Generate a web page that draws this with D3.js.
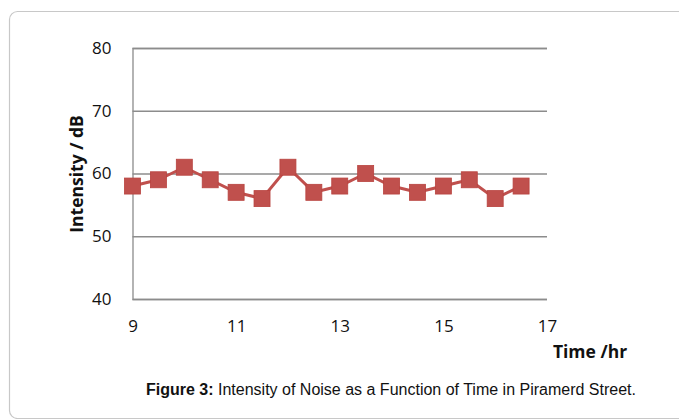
<!DOCTYPE html>
<html><head><meta charset="utf-8">
<script src="https://cdn.jsdelivr.net/npm/d3@7"></script>
<style>body{margin:0;background:#fff}svg{display:block}</style>
</head><body>
<svg id="c" width="679" height="419"></svg>
<script>
const times = [9, 9.5, 10, 10.5, 11, 11.5, 12, 12.5, 13, 13.5, 14, 14.5, 15, 15.5, 16, 16.5];
const intensity = [58, 59, 61, 59, 57, 56, 61, 57, 58, 60, 58, 57, 58, 59, 56, 58];
const xTicks = [9, 11, 13, 15, 17];
const yTicks = [40, 50, 60, 70, 80];
const xTitle = "Time /hr";
const yTitle = "Intensity / dB";
const captionBold = "Figure 3:";
const captionText = " Intensity of Noise as a Function of Time in Piramerd Street.";

const svg = d3.select("#c");
svg.append("rect").attr("x", 9.5).attr("y", 11.5).attr("width", 720).attr("height", 407)
  .attr("rx", 8).attr("fill", "#fff").attr("stroke", "#c8c8c8").attr("stroke-width", 1.2);

const x = d3.scaleLinear().domain([9, 17]).range([132.5, 547]);
const y = d3.scaleLinear().domain([40, 80]).range([299, 48]);
const tickFont = "'Open Sans', sans-serif";

// gridlines
const gy = svg.append("g").attr("transform", `translate(${x(9)},0)`)
  .call(d3.axisLeft(y).tickValues(yTicks).tickSize(-(x(17) - x(9))).tickFormat(d3.format("d")).tickPadding(21));
gy.select(".domain").attr("stroke", "#8c8c8c").attr("stroke-width", 1.3);
gy.selectAll(".tick line").attr("stroke", "#8c8c8c").attr("stroke-width", 1.3);
gy.selectAll(".tick text").attr("font-family", tickFont).attr("font-size", 17).attr("fill", "#111");

const gx = svg.append("g").attr("transform", `translate(0,${y(40)})`)
  .call(d3.axisBottom(x).tickValues(xTicks).tickSize(0).tickFormat(d3.format("d")).tickPadding(21));
gx.select(".domain").remove();
gx.selectAll(".tick text").attr("font-family", tickFont).attr("font-size", 17).attr("fill", "#111");

svg.append("text").attr("x", 590).attr("y", 358).attr("text-anchor", "middle")
  .attr("font-family", tickFont).attr("font-weight", "bold").attr("font-size", 17.5).attr("fill", "#111").text(xTitle);
svg.append("text").attr("transform", "translate(83,174) rotate(-90)").attr("text-anchor", "middle")
  .attr("font-family", tickFont).attr("font-weight", "bold").attr("font-size", 17.5).attr("fill", "#111").text(yTitle);

const data = times.map((t, i) => ({t, v: intensity[i]}));
svg.append("path").datum(data).attr("fill", "none").attr("stroke", "#c0504d").attr("stroke-width", 3)
  .attr("stroke-linejoin", "round")
  .attr("d", d3.line().x(d => x(d.t)).y(d => y(d.v)));
const s = 16;
svg.selectAll("rect.m").data(data).join("rect").attr("class", "m")
  .attr("x", d => x(d.t) - s / 2).attr("y", d => y(d.v) - s / 2).attr("width", s).attr("height", s)
  .attr("fill", "#c0504d").attr("stroke", "#b8433f").attr("stroke-width", 0.8);

const cap = svg.append("text").attr("x", 146).attr("y", 395)
  .attr("font-family", "'Liberation Sans', Arial, sans-serif").attr("font-size", 16).attr("fill", "#111");
cap.append("tspan").attr("font-weight", "bold").text(captionBold);
cap.append("tspan").text(captionText);
</script>
</body></html>
